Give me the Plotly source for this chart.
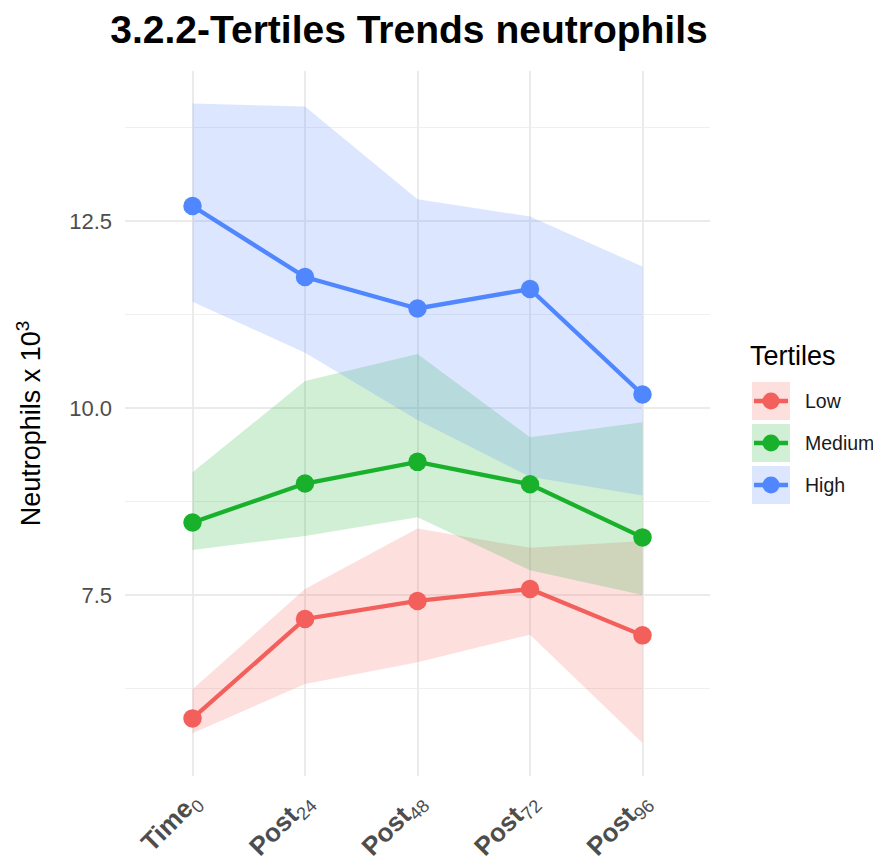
import plotly.graph_objects as go

categories = ["Time0", "Post24", "Post48", "Post72", "Post96"]
tick_labels = ["<b>Time</b><sub>0</sub>", "<b>Post</b><sub>24</sub>", "<b>Post</b><sub>48</sub>",
               "<b>Post</b><sub>72</sub>", "<b>Post</b><sub>96</sub>"]
tertiles = ["Low", "Medium", "High"]

low_mean = [5.85, 7.18, 7.42, 7.58, 6.96]
low_lower = [5.65, 6.31, 6.60, 6.97, 5.52]
low_upper = [6.24, 7.58, 8.39, 8.13, 8.22]

medium_mean = [8.47, 8.99, 9.28, 8.98, 8.27]
medium_lower = [8.10, 8.29, 8.54, 7.83, 7.50]
medium_upper = [9.14, 10.36, 10.72, 9.61, 9.81]

high_mean = [12.70, 11.75, 11.33, 11.59, 10.18]
high_lower = [11.42, 10.74, 9.84, 9.08, 8.83]
high_upper = [14.07, 14.03, 12.79, 12.56, 11.89]

line_colors = ["#F35F5B", "#19B12C", "#5087FF"]
fill_colors = ["rgba(243,95,91,0.2)", "rgba(25,177,44,0.2)", "rgba(80,135,255,0.2)"]

series = [
    (low_mean, low_lower, low_upper),
    (medium_mean, medium_lower, medium_upper),
    (high_mean, high_lower, high_upper),
]

# the page body has an 8px default margin; size the figure to fit the window
OFF = 8
W, H = 881 - OFF, 863 - OFF
# panel in window pixels: x 125..710, y 71..776
ML, MR, MT, MB = 125 - OFF, 171, 71 - OFF, 87
PW, PH = W - ML - MR, H - MT - MB
FONT = "Liberation Sans, Arial, Helvetica"

fig = go.Figure()

# ribbons
for (m, lo, up), fc in zip(series, fill_colors):
    fig.add_trace(go.Scatter(x=categories, y=up, mode="lines", line=dict(width=0),
                             hoverinfo="skip", showlegend=False))
    fig.add_trace(go.Scatter(x=categories, y=lo, mode="lines", line=dict(width=0),
                             fill="tonexty", fillcolor=fc, hoverinfo="skip", showlegend=False))

# lines + points
for name, (m, lo, up), lc in zip(tertiles, series, line_colors):
    fig.add_trace(go.Scatter(x=categories, y=m, mode="lines+markers", name=name,
                             line=dict(color=lc, width=4.3),
                             marker=dict(color=lc, size=18.5), showlegend=False))

def px_x(sx):
    return (sx - OFF - ML) / PW

def px_y(sy):
    return (H - MB - (sy - OFF)) / PH

shapes = []
annotations = []
# manual legend (window pixel positions)
key_x0, key_size = 752, 38
key_tops = [382, 424, 466]
for name, lc, fc, top in zip(tertiles, line_colors, fill_colors, key_tops):
    shapes.append(dict(type="rect", xref="paper", yref="paper",
                       x0=px_x(key_x0), x1=px_x(key_x0 + key_size),
                       y0=px_y(top + key_size), y1=px_y(top),
                       fillcolor=fc, line=dict(width=0), layer="above"))
    cy = top + key_size / 2
    shapes.append(dict(type="line", xref="paper", yref="paper",
                       x0=px_x(key_x0 + 2), x1=px_x(key_x0 + key_size - 2),
                       y0=px_y(cy), y1=px_y(cy), line=dict(color=lc, width=4.3), layer="above"))
    r = 8.5
    cx = key_x0 + key_size / 2
    shapes.append(dict(type="circle", xref="paper", yref="paper",
                       x0=px_x(cx - r), x1=px_x(cx + r), y0=px_y(cy + r), y1=px_y(cy - r),
                       fillcolor=lc, line=dict(width=0), layer="above"))
    annotations.append(dict(text=name, xref="paper", yref="paper", x=px_x(803), y=px_y(cy),
                            xanchor="left", yanchor="middle", showarrow=False,
                            font=dict(size=19.5, color="#1a1a1a", family=FONT)))
annotations.append(dict(text="Tertiles", xref="paper", yref="paper", x=px_x(748), y=px_y(356),
                        xanchor="left", yanchor="middle", showarrow=False,
                        font=dict(size=27, color="#000000", family=FONT)))

fig.update_layout(
    width=W, height=H,
    margin=dict(l=ML, r=MR, t=MT, b=MB),
    paper_bgcolor="white", plot_bgcolor="white",
    font=dict(family=FONT, color="#4D4D4D"),
    title=dict(text="<b>3.2.2-Tertiles Trends neutrophils</b>", x=(409 - OFF) / W, xanchor="center",
               y=1 - (29 - OFF) / H, yanchor="middle",
               font=dict(size=39, color="#000000", family=FONT)),
    showlegend=False,
    shapes=shapes,
    annotations=annotations,
)

fig.update_xaxes(
    type="category", categoryorder="array", categoryarray=categories,
    range=[-0.6, 4.6], tickmode="array", tickvals=categories, ticktext=tick_labels,
    tickangle=-45, tickfont=dict(size=26, color="#4D4D4D"),
    showgrid=True, gridcolor="#EBEBEB", gridwidth=1.8, zeroline=False, showline=False,
    ticks="", ticklabelstandoff=4, automargin=False,
)
fig.update_yaxes(
    range=[5.08, 14.505], tick0=0, dtick=2.5, tickformat=".1f",
    tickfont=dict(size=22, color="#4D4D4D"),
    showgrid=True, gridcolor="#EBEBEB", gridwidth=1.8, zeroline=False, showline=False,
    ticks="", ticklabelstandoff=12, automargin=False,
    minor=dict(dtick=1.25, tick0=0, showgrid=True, gridcolor="#EFEFEF", gridwidth=1.2),
    title=dict(text="Neutrophils x 10<sup>3</sup>", standoff=20,
               font=dict(size=27, color="#000000")),
)

fig.write_html("out.html")
